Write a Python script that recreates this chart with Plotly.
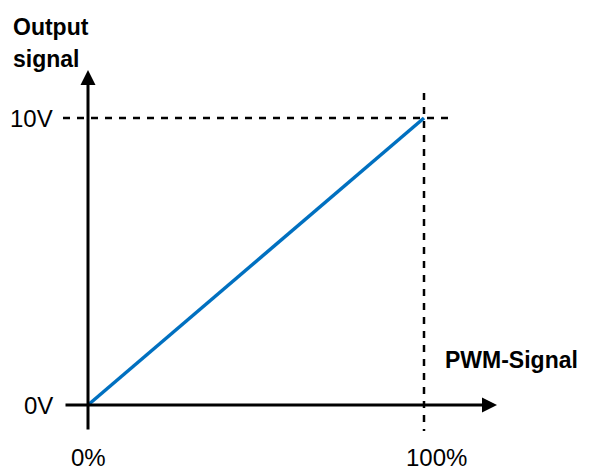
import plotly.graph_objects as go

# Data
pwm_percent = [0, 100]
output_volt = [0, 10]
x_tick_vals = [0, 100]
x_tick_text = ["0%", "100%"]
y_tick_vals = [0, 10]
y_tick_text = ["0V", "10V"]
x_title = "PWM-Signal"
y_title_lines = ["Output", "signal"]

FONT = "Liberation Sans, Arial, sans-serif"

# screenshot pixel mapping (page has an 8px body margin)
OFF = 8
X0_PX, X100_PX = 88, 424
Y0_PX, Y10_PX = 405, 118
sx = (X100_PX - X0_PX) / 100.0
sy = (Y0_PX - Y10_PX) / 10.0


def X(px):
    return (px - X0_PX) / sx


def Y(py):
    return (Y0_PX - py) / sy


W, H = 593, 473
x_range = [X(OFF), X(OFF + W)]
y_range = [Y(OFF + H), Y(OFF)]

fig = go.Figure()

dash_style = dict(color="black", width=2.5, dash="7px,7px")
# dashed guides
fig.add_trace(go.Scatter(x=[X(63), X(450)], y=[10, 10], mode="lines",
                         line=dash_style, hoverinfo="skip"))
fig.add_trace(go.Scatter(x=[100, 100], y=[Y(93), Y(431)], mode="lines",
                         line=dash_style, hoverinfo="skip"))

# signal line
fig.add_trace(go.Scatter(x=pwm_percent, y=output_volt, mode="lines",
                         line=dict(color="#0070C0", width=3.5), hoverinfo="skip"))

annotations = []
# axes arrows
annotations.append(dict(x=0, y=Y(70), ax=0, ay=Y(431),
                        xref="x", yref="y", axref="x", ayref="y", showarrow=True,
                        arrowhead=2, arrowsize=1, arrowwidth=3, arrowcolor="black", text=""))
annotations.append(dict(x=X(497), y=0, ax=X(64), ay=0,
                        xref="x", yref="y", axref="x", ayref="y", showarrow=True,
                        arrowhead=2, arrowsize=1, arrowwidth=3, arrowcolor="black", text=""))

# tick labels
x_label_px = [88, 436]
for v, t, p in zip(x_tick_vals, x_tick_text, x_label_px):
    annotations.append(dict(x=X(p), y=Y(457), text=t, showarrow=False,
                            xanchor="center", yanchor="middle",
                            font=dict(family=FONT, size=24, color="black")))
for v, t in zip(y_tick_vals, y_tick_text):
    annotations.append(dict(x=X(55), y=v, text=t, showarrow=False,
                            xanchor="right", yanchor="middle",
                            font=dict(family=FONT, size=24, color="black")))

# axis titles
annotations.append(dict(x=X(443), y=Y(360), text="<b>" + x_title + "</b>",
                        showarrow=False, xanchor="left", yanchor="middle",
                        font=dict(family=FONT, size=23, color="black")))
for line, py in zip(y_title_lines, [27, 59]):
    annotations.append(dict(x=X(11), y=Y(py), text="<b>" + line + "</b>",
                            showarrow=False, xanchor="left", yanchor="middle",
                            font=dict(family=FONT, size=23, color="black")))

fig.update_layout(
    width=W, height=H,
    margin=dict(l=0, r=0, t=0, b=0),
    paper_bgcolor="white", plot_bgcolor="white",
    showlegend=False,
    xaxis=dict(range=x_range, visible=False, fixedrange=True),
    yaxis=dict(range=y_range, visible=False, fixedrange=True),
    annotations=annotations,
)

fig.write_html("out.html")
